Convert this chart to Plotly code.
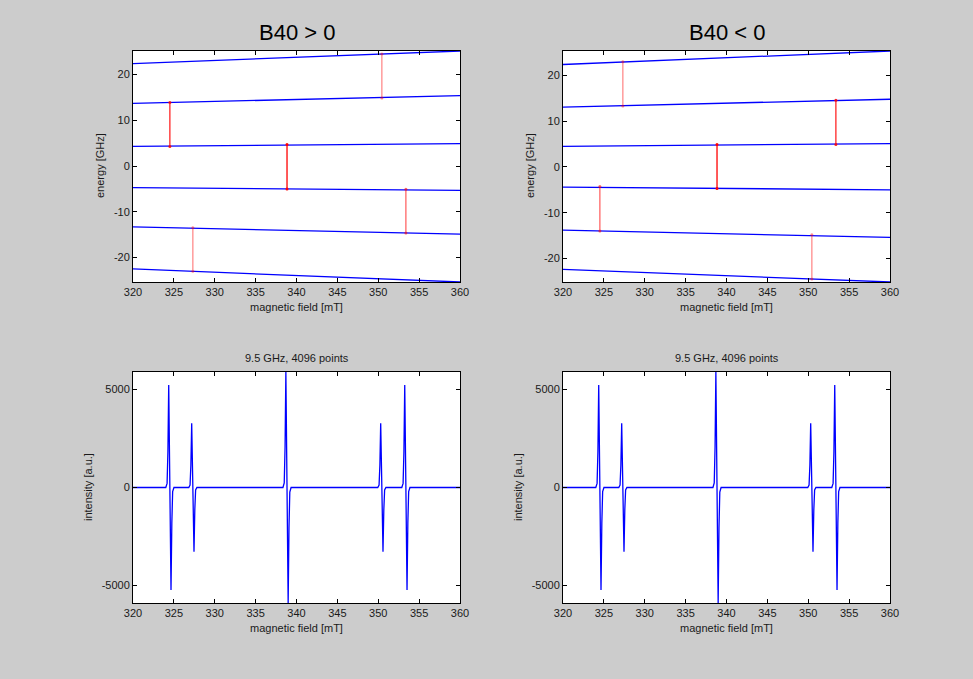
import plotly.graph_objects as go

# ---------------- data ----------------
field_range = [320, 360]
level_fields = [320, 360]

# energy levels (GHz) at 320 mT and 360 mT
levels_pos = [(22.4, 25.15), (13.7, 15.4), (4.3, 4.9), (-4.7, -5.3), (-13.3, -14.9), (-22.5, -25.35)]
levels_neg = [(22.4, 25.35), (13.1, 14.8), (4.5, 5.1), (-4.4, -5.0), (-13.8, -15.4), (-22.4, -25.15)]

# transitions (field, upper energy, lower energy)
trans_fields = [324.51, 327.32, 338.84, 350.44, 353.38]
trans_pos_upper = [13.9, -13.5, 4.7, 24.5, -5.05]
trans_pos_lower = [4.25, -23.0, -5.0, 14.9, -14.65]
trans_neg_upper = [-4.25, 23.0, 4.9, -14.8, 14.6]
trans_neg_lower = [-14.0, 13.3, -4.7, -24.5, 4.9]

# spectrum (field in mT, intensity in a.u.)
spec_field = [320.0,
              324.01, 324.17, 324.27, 324.37, 324.51, 324.65, 324.75, 324.85, 325.01,
              326.82, 326.98, 327.08, 327.18, 327.32, 327.46, 327.56, 327.66, 327.82,
              338.34, 338.50, 338.60, 338.70, 338.84, 338.98, 339.08, 339.18, 339.34,
              349.94, 350.10, 350.20, 350.30, 350.44, 350.58, 350.68, 350.78, 350.94,
              352.88, 353.04, 353.14, 353.24, 353.38, 353.52, 353.62, 353.72, 353.88,
              360.0]
spec_int = [0,
            0, 210, 1830, 5240, 0, -5240, -1830, -210, 0,
            0, 130, 1150, 3280, 0, -3280, -1150, -130, 0,
            0, 240, 2070, 5900, 0, -5900, -2070, -240, 0,
            0, 130, 1150, 3280, 0, -3280, -1150, -130, 0,
            0, 210, 1830, 5240, 0, -5240, -1830, -210, 0,
            0]

x_ticks = [320, 325, 330, 335, 340, 345, 350, 355, 360]
e_ticks = [-20, -10, 0, 10, 20]
e_ticktext = ["-20", "-10", "0", "10", "20"]
i_ticks = [-5000, 0, 5000]
i_ticktext = ["-5000", "0", "5000"]

titles = ["B40 > 0", "B40 < 0"]
subtitle = "9.5 GHz, 4096 points"

# styles
trans_alpha_pos = [0.85, 0.45, 1.0, 0.45, 0.6]
trans_alpha_neg = [0.6, 0.45, 1.0, 0.45, 0.85]

W, H = 973, 679
FONT = "Liberation Sans, Arial, sans-serif"
TXT = "#1a1a1a"


def px(x):
    return x / W


def py(y):
    return 1 - y / H


fig = go.Figure()

cols = [(133, 460), (563, 890)]
rows = [(51, 282), (372, 603)]

axis_common = dict(
    showline=True, mirror="ticks", linecolor="black", linewidth=1,
    ticks="inside", ticklen=4, tickcolor="black", tickwidth=1,
    showgrid=False, zeroline=False, automargin=False,
    tickfont=dict(family=FONT, size=11, color=TXT),
)

layout_axes = {}
ai = 0
for r, (y0, y1) in enumerate(rows):
    for c, (x0, x1) in enumerate(cols):
        ai += 1
        xa = "xaxis" if ai == 1 else f"xaxis{ai}"
        ya = "yaxis" if ai == 1 else f"yaxis{ai}"
        xr = "x" if ai == 1 else f"x{ai}"
        yr = "y" if ai == 1 else f"y{ai}"
        layout_axes[xa] = dict(axis_common, domain=[px(x0), px(x1)], anchor=yr,
                               range=field_range, tickvals=x_ticks,
                               ticktext=[str(t) for t in x_ticks])
        if r == 0:
            lv = levels_pos if c == 0 else levels_neg
            vals = [v for pair in lv for v in pair]
            layout_axes[ya] = dict(axis_common, domain=[py(y1), py(y0)], anchor=xr,
                                   range=[min(vals), max(vals)], tickvals=e_ticks,
                                   ticktext=e_ticktext)
        else:
            layout_axes[ya] = dict(axis_common, domain=[py(y1), py(y0)], anchor=xr,
                                   range=[min(spec_int), max(spec_int)], tickvals=i_ticks,
                                   ticktext=i_ticktext)

# top plots: energy levels + transitions
for c, (lv, tu, tl, ta) in enumerate([
        (levels_pos, trans_pos_upper, trans_pos_lower, trans_alpha_pos),
        (levels_neg, trans_neg_upper, trans_neg_lower, trans_alpha_neg)]):
    xr = "x" if c == 0 else "x2"
    yr = "y" if c == 0 else "y2"
    for a, b in lv:
        fig.add_trace(go.Scatter(x=level_fields, y=[a, b], mode="lines",
                                 line=dict(color="#0000ff", width=1.3),
                                 xaxis=xr, yaxis=yr, showlegend=False, hoverinfo="skip"))
    for f, u, l, al in zip(trans_fields, tu, tl, ta):
        fig.add_trace(go.Scatter(x=[f, f], y=[u, l], mode="lines+markers",
                                 line=dict(color="red", width=1.3),
                                 marker=dict(color="red", size=3),
                                 opacity=al, xaxis=xr, yaxis=yr,
                                 showlegend=False, hoverinfo="skip"))

# bottom plots: spectra
for c in range(2):
    xr = "x3" if c == 0 else "x4"
    yr = "y3" if c == 0 else "y4"
    fig.add_trace(go.Scatter(x=spec_field, y=spec_int, mode="lines",
                             line=dict(color="#0000ff", width=1.3),
                             xaxis=xr, yaxis=yr, showlegend=False, hoverinfo="skip"))

ann = []
for c, (x0, x1) in enumerate(cols):
    xc = (x0 + x1) / 2
    ann.append(dict(text=titles[c], x=px(xc), y=py(32), xref="paper", yref="paper",
                    showarrow=False, xanchor="center", yanchor="middle",
                    font=dict(family=FONT, size=22, color="black")))
    ann.append(dict(text=subtitle, x=px(xc), y=py(358), xref="paper", yref="paper",
                    showarrow=False, xanchor="center", yanchor="middle",
                    font=dict(family=FONT, size=11, color=TXT)))
    for yy in (307, 628):
        ann.append(dict(text="magnetic field [mT]", x=px(xc), y=py(yy), xref="paper",
                        yref="paper", showarrow=False, xanchor="center", yanchor="middle",
                        font=dict(family=FONT, size=11, color=TXT)))
    ann.append(dict(text="energy [GHz]", x=px(x0 - 33), y=py(166), xref="paper",
                    yref="paper", showarrow=False, xanchor="center", yanchor="middle",
                    textangle=-90, font=dict(family=FONT, size=11, color=TXT)))
    ann.append(dict(text="intensity [a.u.]", x=px(x0 - 45), y=py(487), xref="paper",
                    yref="paper", showarrow=False, xanchor="center", yanchor="middle",
                    textangle=-90, font=dict(family=FONT, size=11, color=TXT)))

fig.update_layout(
    width=W, height=H,
    margin=dict(l=0, r=0, t=0, b=0),
    paper_bgcolor="#cccccc", plot_bgcolor="white",
    annotations=ann,
    **layout_axes,
)

fig.write_html("out.html")
